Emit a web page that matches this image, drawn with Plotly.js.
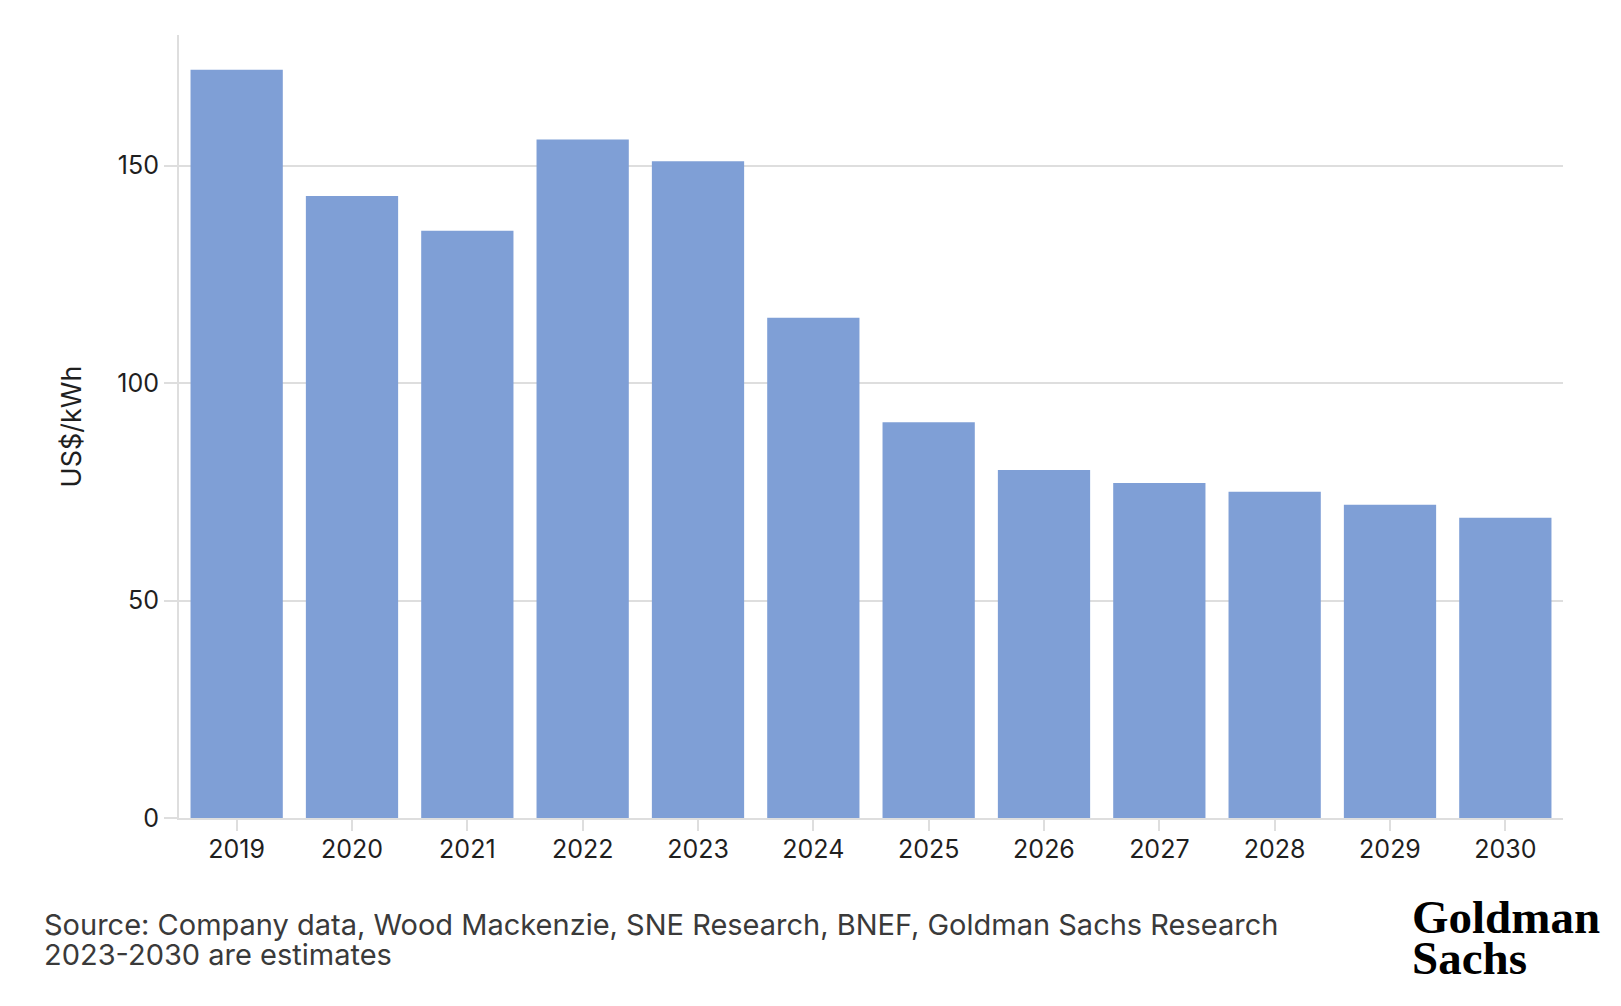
<!DOCTYPE html>
<html>
<head>
<meta charset="utf-8">
<script src="https://cdn.plot.ly/plotly-3.0.1.min.js"></script>
<style>
  html, body { margin: 0; padding: 0; background: #fff; }
  #chart { width: 1621px; height: 1006px; }
</style>
</head>
<body>
<div id="chart"></div>
<script>
'use strict';

const years = ['2019', '2020', '2021', '2022', '2023', '2024', '2025', '2026', '2027', '2028', '2029', '2030'];
const packPrices = [172, 143, 135, 156, 151, 115, 91, 80, 77, 75, 72, 69];
const yTicks = [0, 50, 100, 150];
const sourceLines = [
  'Source: Company data, Wood Mackenzie, SNE Research, BNEF, Goldman Sachs Research',
  '2023-2030 are estimates'
];
const logoLines = ['Goldman', 'Sachs'];

const W = 1621, H = 1006;
const margin = { l: 179, r: 58, t: 35, b: 188, pad: 0 };
const plotW = W - margin.l - margin.r;
const plotH = H - margin.t - margin.b;

// pixel position -> paper coordinates
function px(x) { return (x - margin.l) / plotW; }
function py(y) { return (H - margin.b - y) / plotH; }

// multi-line text with a tight line spacing: the base font sets the line step (1.3em),
// the inner span sets the glyph size
function tightLines(lines, glyphSize) {
  return lines.map(t => `<span style="font-size:${glyphSize}px">${t}</span>`).join('<br>');
}

const gridColor = '#dedede';
const sansFamily = 'Inter, Roboto, sans-serif';
const tickFont = { family: sansFamily, size: 25, color: '#1f1f1f' };

const trace = {
  x: years,
  y: packPrices,
  type: 'bar',
  marker: { color: 'rgb(127,159,214)', line: { width: 0 } },
  hoverinfo: 'x+y'
};

const annotations = [
  {
    text: tightLines(sourceLines, 29), xref: 'paper', yref: 'paper',
    x: px(42), y: py(939), align: 'left',
    xanchor: 'left', yanchor: 'middle', showarrow: false,
    font: { family: sansFamily, size: 23, color: '#3a3a3a' }
  },
  {
    text: tightLines(logoLines.map(t => '<b>' + t + '</b>'), 47), xref: 'paper', yref: 'paper',
    x: px(1410), y: py(937), align: 'left',
    xanchor: 'left', yanchor: 'middle', showarrow: false,
    font: { family: '"Liberation Serif", "DejaVu Serif", serif', size: 31.5, color: '#000' }
  }
];

const layout = {
  width: W,
  height: H,
  margin: margin,
  paper_bgcolor: '#fff',
  plot_bgcolor: '#fff',
  showlegend: false,
  bargap: 0.2,
  xaxis: {
    type: 'category',
    showline: true, linecolor: gridColor, linewidth: 2,
    ticks: 'outside', ticklen: 11, tickwidth: 2, tickcolor: gridColor,
    ticklabelstandoff: -3,
    showgrid: false,
    tickfont: tickFont,
    fixedrange: true
  },
  yaxis: {
    range: [0, 180],
    tickvals: yTicks,
    showline: true, linecolor: gridColor, linewidth: 2,
    ticks: 'outside', ticklen: 13, tickwidth: 2, tickcolor: gridColor,
    showgrid: true, gridcolor: gridColor, gridwidth: 2,
    zeroline: false,
    tickfont: tickFont,
    title: { text: 'US$/kWh', font: { family: sansFamily, size: 27, color: '#1f1f1f' }, standoff: 28 },
    fixedrange: true
  },
  annotations: annotations
};

Plotly.newPlot('chart', [trace], layout, { displayModeBar: false, staticPlot: true });
</script>
</body>
</html>
